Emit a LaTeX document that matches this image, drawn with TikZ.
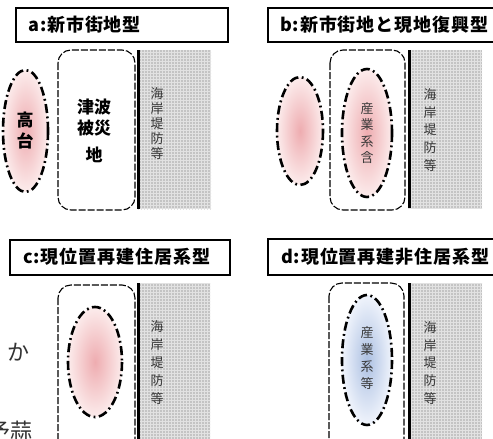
\documentclass[tikz,border=0pt]{standalone}
\usepackage{fontspec}
\usetikzlibrary{patterns}
\newfontfamily\jp{Noto Sans CJK JP}
\newfontfamily\jpt[LetterSpace=5]{Noto Sans CJK JP}
\definecolor{seagray}{RGB}{196,196,196}
\definecolor{gridline}{RGB}{226,226,226}
\definecolor{pinkin}{RGB}{238,172,176}
\definecolor{pinkout}{RGB}{252,236,236}
\definecolor{bluein}{RGB}{172,192,226}
\definecolor{blueout}{RGB}{240,244,252}
\begin{document}
\begin{tikzpicture}[x=1pt,y=-1pt,
  titlebox/.style={draw=black,line width=1.5pt},
  ttext/.style={anchor=west,inner sep=0,font=\jpt\bfseries\fontsize{18}{18}\selectfont},
  zone/.style={draw=black,line width=1.1pt,dash pattern=on 7pt off 2pt,rounded corners=13pt},
  sea/.style={fill=seagray},
  seagrid/.style={pattern=grid,pattern color=gridline},
  wall/.style={draw=black,line width=3pt},
  area/.style={draw=black,line width=2.6pt,dash pattern=on 9pt off 3.5pt on 1.8pt off 3.5pt},
  pinkarea/.style={inner color=pinkin,outer color=pinkout},
  bluearea/.style={inner color=bluein,outer color=blueout},
  small/.style={inner sep=0,align=center,text=black!78},
  big/.style={inner sep=0,align=center,font=\jp\bfseries\fontsize{17}{21}\selectfont},
  stray/.style={inner sep=0,text=black!80,font=\jp\fontsize{22}{22}\selectfont}
]
\useasboundingbox (0,0) rectangle (493,439);
\clip (0,0) rectangle (493,439);
\fill[white] (0,0) rectangle (493,439);

% ---------- panel a ----------
\draw[titlebox] (16,8) rectangle (228,42);
\node[ttext] (ta) at (28,25) {a:新市街地型};
\draw[zone] (58,50) rectangle (135,210);
\fill[sea] (137,50) rectangle (211,209);
\fill[seagrid] (137,50) rectangle (211,209);
\draw[wall] (138.5,50) -- (138.5,209);
\node[small,font=\jp\fontsize{13}{15}\selectfont] (sa) at (157,124) {海\\岸\\堤\\防\\等};
\shade[pinkarea] (25.5,131) ellipse [x radius=22.5,y radius=61];
\draw[area] (25.5,131) ellipse [x radius=22.5,y radius=61];
\node[big] (ha) at (25,131) {高\\台};
\node[big] (tz1) at (94,107) {津波};
\node[big] (tz2) at (94,128) {被災};
\node[big] (tz3) at (94,155) {地};

% ---------- panel b ----------
\draw[titlebox] (268,8) rectangle (500,42);
\node[ttext] (tb) at (280,25) {b:新市街地と現地復興型};
\draw[zone] (330,50) rectangle (405,210);
\fill[sea] (408,50) rectangle (482,208);
\fill[seagrid] (408,50) rectangle (482,208);
\draw[wall] (409.5,50) -- (409.5,208);
\node[small,font=\jp\fontsize{13}{17.7}\selectfont] (sb) at (430,130) {海\\岸\\堤\\防\\等};
\shade[pinkarea] (300,131) ellipse [x radius=23,y radius=54];
\draw[area] (300,131) ellipse [x radius=23,y radius=54];
\shade[pinkarea] (367,133) ellipse [x radius=25,y radius=64];
\draw[area] (367,133) ellipse [x radius=25,y radius=64];
\node[small,font=\jp\fontsize{13}{16.5}\selectfont] (ib) at (367,133) {産\\業\\系\\含};

% ---------- panel c ----------
\draw[titlebox] (10,240) rectangle (230,275);
\node[ttext] (tc) at (23,257) {c:現位置再建住居系型};
\draw[zone] (58,285) rectangle (135,455);
\fill[sea] (137,283) rectangle (210,445);
\fill[seagrid] (137,283) rectangle (210,445);
\draw[wall] (138.5,283) -- (138.5,445);
\node[small,font=\jp\fontsize{13}{17.8}\selectfont] (sc) at (157,362.5) {海\\岸\\堤\\防\\等};
\shade[pinkarea] (95,362) ellipse [x radius=27,y radius=55];
\draw[area] (95,362) ellipse [x radius=27,y radius=55];
\node[stray] (ka) at (18,352) {か};
\node[stray] (kb) at (11,431) {予蒜};

% ---------- panel d ----------
\draw[titlebox] (268,239) rectangle (500,275);
\node[ttext] (td) at (281,257) {d:現位置再建非住居系型};
\draw[zone] (329,283) rectangle (404,455);
\fill[sea] (408,283) rectangle (482,445);
\fill[seagrid] (408,283) rectangle (482,445);
\draw[wall] (409.5,283) -- (409.5,445);
\node[small,font=\jp\fontsize{13}{17.8}\selectfont] (sd) at (430,363) {海\\岸\\堤\\防\\等};
\shade[bluearea] (367,360) ellipse [x radius=25,y radius=65];
\draw[area] (367,360) ellipse [x radius=25,y radius=65];
\node[small,font=\jp\fontsize{13}{17}\selectfont] (id) at (367,358.5) {産\\業\\系\\等};
\end{tikzpicture}
\end{document}
